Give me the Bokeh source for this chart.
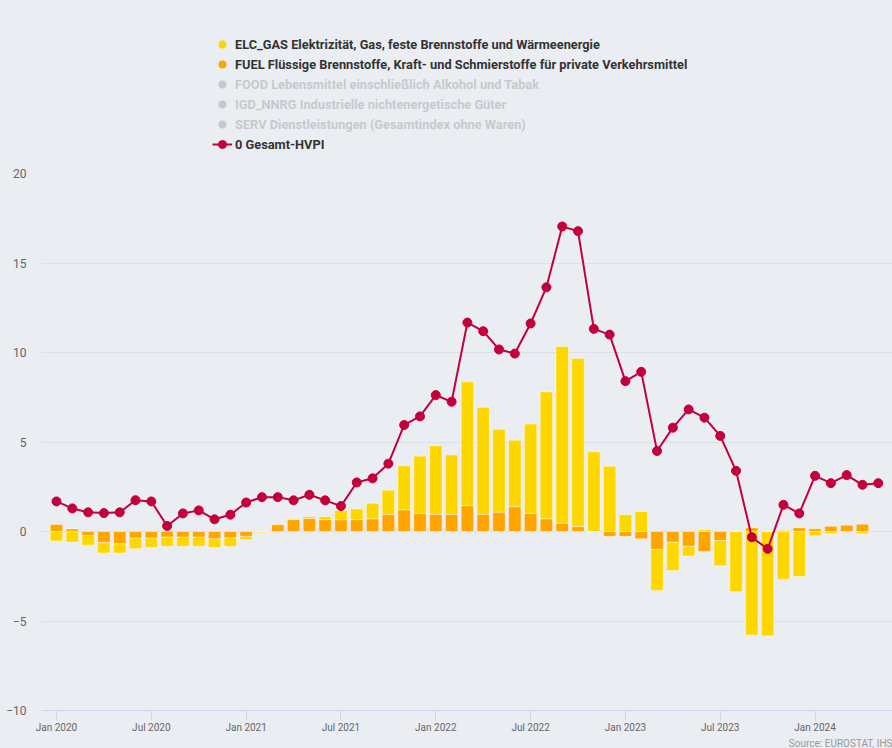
import numpy as np
from jinja2 import Template
from bokeh.plotting import figure
from bokeh.layouts import column
from bokeh.models import ColumnDataSource, Range1d, FixedTicker, Legend, LegendItem, Title
from bokeh.embed import file_html
from bokeh.resources import INLINE

# ---------------- data ----------------
month_names = ["Jan", "Feb", "Mar", "Apr", "May", "Jun",
               "Jul", "Aug", "Sep", "Oct", "Nov", "Dec"]
months = [f"{m} {y}" for y in range(2020, 2025) for m in month_names][:53]

tick_labels = ["Jan 2020", "Jul 2020", "Jan 2021", "Jul 2021", "Jan 2022",
               "Jul 2022", "Jan 2023", "Jul 2023", "Jan 2024"]

# 0 Gesamt-HVPI (Jan 2020 - May 2024)
hvpi = [1.68, 1.29, 1.07, 1.03, 1.07, 1.75, 1.68, 0.31, 1.01, 1.18, 0.68, 0.94,
        1.62, 1.92, 1.92, 1.74, 2.05, 1.74, 1.42, 2.74, 2.97, 3.79, 5.95, 6.43,
        7.62, 7.25, 11.67, 11.19, 10.17, 9.94, 11.62, 13.64, 17.04, 16.78, 11.32, 11.0,
        8.4, 8.92, 4.5, 5.8, 6.82, 6.36, 5.34, 3.39, -0.32, -0.97, 1.49, 1.01,
        3.11, 2.7, 3.15, 2.61, 2.7]

# FUEL contribution (Jan 2020 - Apr 2024)
fuel = [0.39, 0.14, -0.22, -0.62, -0.68, -0.36, -0.36, -0.31, -0.31, -0.31, -0.40, -0.35,
        -0.27, 0.0, 0.38, 0.66, 0.72, 0.66, 0.65, 0.66, 0.70, 0.94, 1.20, 1.00,
        0.95, 0.95, 1.44, 0.95, 1.07, 1.38, 1.01, 0.70, 0.46, 0.27, 0.0, -0.27,
        -0.27, -0.40, -1.0, -0.59, -0.82, -1.12, -0.50, 0.0, 0.21, 0.0, 0.05, 0.21,
        0.15, 0.29, 0.35, 0.41]

# ELC_GAS contribution (Jan 2020 - Apr 2024)
elc = [-0.53, -0.58, -0.55, -0.58, -0.52, -0.60, -0.54, -0.52, -0.52, -0.52, -0.50, -0.48,
       -0.19, -0.07, 0.02, 0.05, 0.10, 0.17, 0.52, 0.60, 0.88, 1.37, 2.47, 3.21,
       3.84, 3.33, 6.92, 5.99, 4.64, 3.72, 4.99, 7.10, 9.87, 9.39, 4.45, 3.65,
       0.94, 1.12, -2.30, -1.59, -0.55, 0.10, -1.42, -3.36, -5.78, -5.83, -2.67, -2.52,
       -0.24, -0.13, -0.02, -0.13]

series_names = [
    "ELC_GAS Elektrizität, Gas, feste Brennstoffe und Wärmeenergie",
    "FUEL Flüssige Brennstoffe, Kraft- und Schmierstoffe für private Verkehrsmittel",
    "FOOD Lebensmittel einschließlich Alkohol und Tabak",
    "IGD_NNRG Industrielle nichtenergetische Güter",
    "SERV Dienstleistungen (Gesamtindex ohne Waren)",
    "0 Gesamt-HVPI",
]
source_text = "Source: EUROSTAT, IHS"

# ---------------- styles ----------------
BG = "#eaedf2"
YELLOW = "#ffd700"
ORANGE = "#ffa500"
RED = "#c4003c"
GRID = "#dde1e7"
AXIS = "#ccd6eb"
FONT = "Roboto"

# ---------------- legend figure (top) ----------------
top = figure(width=892, height=160, x_range=Range1d(0, 1), y_range=Range1d(0, 1),
             output_backend="svg", toolbar_location=None,
             x_axis_location=None, y_axis_location=None,
             background_fill_color=BG, border_fill_color=BG, outline_line_color=None,
             min_border=0, min_border_left=0, min_border_right=0,
             min_border_top=0, min_border_bottom=0)
top.xgrid.grid_line_color = None
top.ygrid.grid_line_color = None

nan_src = ColumnDataSource(dict(x=[np.nan], y=[np.nan]))
r_elc = top.scatter(x="x", y="y", source=nan_src, marker="circle", size=12,
                    fill_color=YELLOW, line_color=None)
r_fuel = top.scatter(x="x", y="y", source=nan_src, marker="circle", size=12,
                     fill_color=ORANGE, line_color=None)
hidden = []
for _ in range(3):
    r = top.scatter(x="x", y="y", source=nan_src, marker="circle", size=12,
                    fill_color="#333333", line_color=None)
    r.visible = False
    hidden.append(r)
r_l1 = top.line(x="x", y="y", source=nan_src, line_color=RED, line_width=2)
r_l2 = top.scatter(x="x", y="y", source=nan_src, size=8, fill_color=RED, line_color=RED)

items = [LegendItem(label=series_names[0], renderers=[r_elc]),
         LegendItem(label=series_names[1], renderers=[r_fuel])]
for name, r in zip(series_names[2:5], hidden):
    items.append(LegendItem(label=name, renderers=[r]))
items.append(LegendItem(label=series_names[5], renderers=[r_l1, r_l2]))

legend = Legend(items=items, location=(171, 6), orientation="vertical",
                padding=0, margin=0, spacing=0,
                glyph_width=20, glyph_height=20, label_height=20,
                label_standoff=3,
                label_text_font=FONT,
                label_text_font_style="bold",
                label_text_font_size="12.8px",
                label_text_color="#333333",
                border_line_color=None, background_fill_alpha=0,
                click_policy="hide",
                inactive_fill_color=BG, inactive_fill_alpha=0.8)
top.add_layout(legend, "center")

# ---------------- main chart ----------------
fuel_a = np.array(fuel)
elc_a = np.array(elc)
xb = np.arange(len(fuel_a))
same_sign = np.sign(elc_a) == np.sign(fuel_a)
elc_bottom = np.where(same_sign & (fuel_a != 0), fuel_a, 0.0)
elc_top = elc_bottom + elc_a

src_fuel = ColumnDataSource(dict(x=xb, bottom=np.zeros(len(xb)), top=fuel_a))
src_elc = ColumnDataSource(dict(x=xb, bottom=elc_bottom, top=elc_top))
src_line = ColumnDataSource(dict(x=np.arange(len(hvpi)), y=hvpi))

p = figure(width=892, height=588,
           x_range=Range1d(-0.95, 52.9), y_range=Range1d(-10, 20),
           output_backend="svg", toolbar_location=None,
           background_fill_color=BG, border_fill_color=BG,
           outline_line_color=None,
           min_border_left=41, min_border_right=0,
           min_border_top=13, min_border_bottom=37)

bar_w = 0.79
p.vbar(x="x", bottom="bottom", top="top", width=bar_w, source=src_elc,
       fill_color=YELLOW, line_color="#ffffff", line_alpha=0.45, line_width=1)
p.vbar(x="x", bottom="bottom", top="top", width=bar_w, source=src_fuel,
       fill_color=ORANGE, line_color="#ffffff", line_alpha=0.45, line_width=1)

p.line(x="x", y="y", source=src_line, line_color=RED, line_width=2)
p.scatter(x="x", y="y", source=src_line, size=9, fill_color=RED, line_color=RED)

tick_pos = [months.index(t) for t in tick_labels]
p.xaxis.ticker = FixedTicker(ticks=tick_pos)
p.xaxis.major_label_overrides = {pos: lab for pos, lab in zip(tick_pos, tick_labels)}
p.xaxis.axis_line_color = AXIS
p.xaxis.major_tick_line_color = AXIS
p.xaxis.major_tick_out = 10
p.xaxis.major_tick_in = 0
p.xaxis.minor_tick_line_color = None
p.xaxis.minor_tick_out = 0
p.xaxis.major_label_standoff = 1
p.xaxis.major_label_text_font = FONT
p.xaxis.major_label_text_font_size = "10px"
p.xaxis.major_label_text_color = "#666666"

p.yaxis.ticker = FixedTicker(ticks=[-10, -5, 0, 5, 10, 15, 20])
p.yaxis.axis_line_color = None
p.yaxis.major_tick_line_color = None
p.yaxis.minor_tick_line_color = None
p.yaxis.major_tick_out = 0
p.yaxis.minor_tick_out = 0
p.yaxis.major_label_standoff = 15
p.yaxis.major_label_text_font = FONT
p.yaxis.major_label_text_font_size = "12px"
p.yaxis.major_label_text_color = "#666666"

p.xgrid.grid_line_color = None
p.ygrid.grid_line_color = GRID

p.add_layout(Title(text=source_text, align="right", standoff=0,
                   text_font=FONT, text_font_size="10px",
                   text_font_style="normal", text_color="#999999"), "below")

layout = column(top, p, spacing=0)

tpl = Template("""{% extends base %}
{% block postamble %}<style>html, body { background: #eaedf2; }</style>{% endblock %}""")

open("out.html", "w").write(file_html(layout, INLINE, template=tpl))
